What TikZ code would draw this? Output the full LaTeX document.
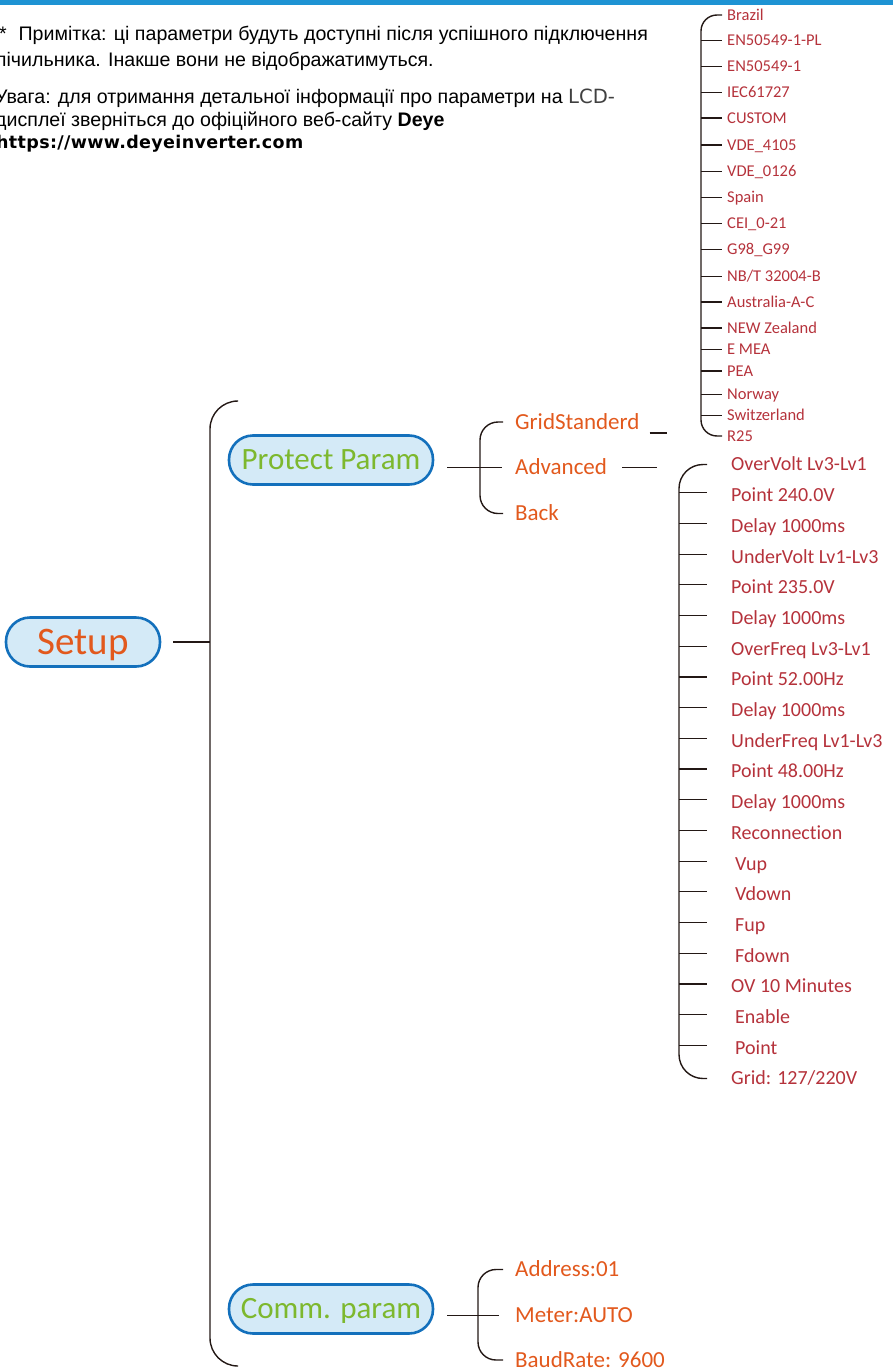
\documentclass[tikz,border=0pt]{standalone}
\usepackage{fontspec}
\setmainfont[Ligatures=CommonOff]{Carlito}
\newfontfamily\notefont{Liberation Sans}
\newfontfamily\lcdfont{DejaVu Sans}
\newfontfamily\urlfont[LetterSpace=2]{DejaVu Sans}
\usetikzlibrary{calc}
\definecolor{barblue}{HTML}{1E93D3}
\definecolor{itemred}{HTML}{B5323B}
\definecolor{menuorange}{HTML}{E2591D}
\definecolor{menugreen}{HTML}{7DB82E}
\definecolor{nodefill}{HTML}{D4EAF7}
\definecolor{nodeedge}{HTML}{1370BC}
\definecolor{linecol}{HTML}{231815}
\begin{document}
\begin{tikzpicture}[x=1pt,y=-1pt,
  menunode/.style={draw=nodeedge, fill=nodefill, line width=2.6pt, rounded corners=24pt,
    minimum height=49pt, inner sep=0pt, text depth=0pt},
  conn/.style={draw=linecol, line width=1.4pt},
  brk/.style={conn, rounded corners=#1},
  subitem/.style={anchor=west, inner sep=0pt, text=menuorange, font=\fontsize{23}{23}\selectfont, text height=14.7pt, text depth=0pt},
  stditem/.style={anchor=west, inner sep=0pt, text=itemred, font=\fontsize{16.5}{16.5}\selectfont, text height=10.6pt, text depth=0pt},
  advitem/.style={anchor=west, inner sep=0pt, text=itemred, font=\fontsize{20}{20}\selectfont, text height=12.8pt, text depth=0pt},
  noteline/.style={anchor=base west, inner sep=0pt, font=\notefont\fontsize{19.6}{19.6}\selectfont}
]
\useasboundingbox (0,0) rectangle (893,1370);
\fill[barblue] (0,0) rectangle (893,5);

% notes
\node[noteline] (n1) at (-1,40.5) {*\hspace{0.6em}Примітка: ці параметри будуть доступні після успішного підключення};
\node[noteline] (n2) at (-5,66.5) {лічильника. Інакше вони не відображатимуться.};
\node[noteline] (n3) at (-5,103.5) {Увага: для отримання детальної інформації про параметри на {\lcdfont\color{black!75}LCD-}};
\node[noteline] (n4) at (-5,126.5) {дисплеї зверніться до офіційного веб-сайту \textbf{Deye}};
\node[noteline, font=\urlfont\bfseries\fontsize{17.5}{17.5}\selectfont] (n5) at (-4,149) {https://www.deyeinverter.com};

% main menu nodes
\node[menunode, minimum width=154pt, text=menuorange, font=\fontsize{39}{39}\selectfont, text height=25pt] (setup) at (83,642) {Setup};
\node[menunode, minimum width=204pt, text=menugreen, font=\fontsize{31}{31}\selectfont, text height=19.8pt] (pp) at (331,460) {Protect Param};
\node[menunode, minimum width=204pt, text=menugreen, font=\fontsize{31}{31}\selectfont, text height=19.8pt] (cp) at (331,1309) {Comm. param};

% main bracket
\coordinate (mtop) at (237,401);
\coordinate (mbot) at (237,1366);
\coordinate (mbx) at (210,642);
\draw[brk=28pt] (mtop) -| (mbx) |- (mbot);
\draw[conn] ([xshift=12pt]setup.east) -- (mbx);

% protect param sub items
\node[subitem] (gs) at (515,422) {GridStanderd};
\node[subitem] (adv) at (515,467.5) {Advanced};
\node[subitem] (back) at (515,513.5) {Back};
\draw[brk=18pt] ([xshift=-12pt]gs.west) -| (480,468) |- ([xshift=-12pt]back.west);
\draw[conn] ([xshift=13pt]pp.east |- adv.west) -- ([xshift=-13pt]adv.west);
\draw[conn] ($(gs.east)+(10,11)$) -- ++(17,0);
\draw[conn] ([xshift=15pt]adv.east) -- ++(35,0);

% grid standards
\foreach \n/\t/\yy in {1/Brazil/15, 2/EN50549-1-PL/40.5, 3/EN50549-1/66.5, 4/IEC61727/92.5,
  5/CUSTOM/118, 6/VDE\_4105/145, 7/VDE\_0126/171.5, 8/Spain/197.5, 9/CEI\_0-21/223.5,
  10/G98\_G99/249.5, 11/NB\slash T 32004-B/276.5, 12/Australia-A-C/302, 13/NEW Zealand/328,
  14/E MEA/349.5, 15/PEA/371, 16/Norway/394.5, 17/Switzerland/415.5, 18/R25/436}
  {\node[stditem] (g\n) at (727,\yy) {\t};}
\draw[brk=16pt] ([xshift=-5pt]g1.west) -| (701,220) |- ([xshift=-5pt]g18.west);
\foreach \n in {2,...,17}
  {\draw[conn, line width=1.2pt] (g\n.west -| 701,0) -- ([xshift=-5pt]g\n.west);}

% advanced items
\foreach \n/\t/\xx in {1/OverVolt Lv3-Lv1/731, 2/Point 240.0V/731, 3/Delay 1000ms/731,
  4/UnderVolt Lv1-Lv3/731, 5/Point 235.0V/731, 6/Delay 1000ms/731, 7/OverFreq Lv3-Lv1/731,
  8/Point 52.00Hz/731, 9/Delay 1000ms/731, 10/UnderFreq Lv1-Lv3/731, 11/Point 48.00Hz/731,
  12/Delay 1000ms/731, 13/Reconnection/731, 14/Vup/735, 15/Vdown/735, 16/Fup/735,
  17/Fdown/735, 18/OV 10 Minutes/731, 19/Enable/735, 20/Point/735, 21/Grid: 127\slash 220V/731}
  {\node[advitem] (a\n) at (\xx,{464.5+(\n-1)*30.7}) {\t};}
\draw[brk=24pt] ([xshift=-24pt]a1.west) -| (679,770) |- ([xshift=-24pt]a21.west);
\foreach \n in {2,...,20}
  {\draw[conn, line width=1.2pt] ($(a\n.west -| 679,0)+(0,-2.5)$) -- ++(28,0);}

% comm param items
\node[subitem] (c1) at (515,1269.5) {Address:01};
\node[subitem] (c2) at (515,1315.5) {Meter:AUTO};
\node[subitem] (c3) at (515,1360) {BaudRate: 9600};
\draw[brk=18pt] ([xshift=-12pt]c1.west) -| (478,1315) |- ([xshift=-12pt]c3.west);
\draw[conn] ([xshift=13pt]cp.east |- c2.west) -- ([xshift=-16pt]c2.west);
\end{tikzpicture}
\end{document}
